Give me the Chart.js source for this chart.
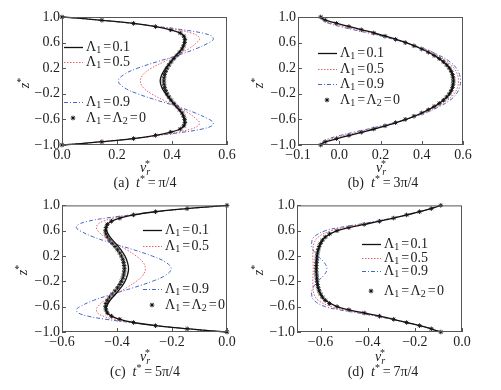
<!DOCTYPE html>
<html>
<head>
<meta charset="utf-8">
<script src="https://cdn.jsdelivr.net/npm/chart.js@4.4.1/dist/chart.umd.min.js"></script>
<style>
  body { margin: 0; background: #fff; }
  #wrap { position: relative; width: 501px; height: 390px; overflow: hidden; font-family: 'Liberation Serif', 'DejaVu Serif', serif; color: #222; }
  #wrap canvas { position: absolute; }
  .txt { position: absolute; transform: translate(-50%, -50%); font-size: 14px; white-space: nowrap; line-height: 16px; }
  .rot { transform: translate(-50%, -50%) rotate(-90deg); }
  .up { font-size: 10px; position: relative; top: -5px; }
  .sb { font-size: 10px; position: relative; top: 3px; }
  .st { font-size: 10px; position: relative; top: -5px; margin-left: -5px; }
</style>
</head>
<body>
<div id="wrap">
  <canvas id="pa" width="250" height="195" style="left:0;top:0"></canvas>
  <canvas id="pb" width="251" height="195" style="left:250px;top:0"></canvas>
  <canvas id="pc" width="250" height="195" style="left:0;top:195px"></canvas>
  <canvas id="pd" width="251" height="195" style="left:250px;top:195px"></canvas>

  <div class="txt rot" style="left:25px;top:83px"><i>z</i><span class="up">*</span></div>
  <div class="txt rot" style="left:259px;top:83px"><i>z</i><span class="up">*</span></div>
  <div class="txt rot" style="left:23px;top:270px"><i>z</i><span class="up">*</span></div>
  <div class="txt rot" style="left:259px;top:270px"><i>z</i><span class="up">*</span></div>

  <div class="txt" style="left:145px;top:168px"><i>v</i><i class="sb">r</i><span class="st">*</span></div>
  <div class="txt" style="left:381px;top:168px"><i>v</i><i class="sb">r</i><span class="st">*</span></div>
  <div class="txt" style="left:145px;top:357px"><i>v</i><i class="sb">r</i><span class="st">*</span></div>
  <div class="txt" style="left:380px;top:357px"><i>v</i><i class="sb">r</i><span class="st">*</span></div>

  <div class="txt" style="left:145px;top:183px">(a)&nbsp;&nbsp;<i>t</i><span class="up">*</span>&thinsp;=&thinsp;π/4</div>
  <div class="txt" style="left:383px;top:183px">(b)&nbsp;&nbsp;<i>t</i><span class="up">*</span>&thinsp;=&thinsp;3π/4</div>
  <div class="txt" style="left:145px;top:372px">(c)&nbsp;&nbsp;<i>t</i><span class="up">*</span>&thinsp;=&thinsp;5π/4</div>
  <div class="txt" style="left:383px;top:372px">(d)&nbsp;&nbsp;<i>t</i><span class="up">*</span>&thinsp;=&thinsp;7π/4</div>
</div>
<script>
// z* positions for the curves and for the Λ1=Λ2=0 markers
const zLine = [1, 0.97, 0.94, 0.9, 0.85, 0.8, 0.75, 0.7, 0.65, 0.6, 0.5, 0.4, 0.3, 0.2, 0.1, 0, -0.1, -0.2, -0.3, -0.4, -0.5, -0.6, -0.65, -0.7, -0.75, -0.8, -0.85, -0.9, -0.94, -0.97, -1];
const zMark = [1, 0.95, 0.9, 0.85, 0.8, 0.75, 0.7, 0.65, 0.6, 0.55, 0.5, 0.45, 0.4, 0.35, 0.3, 0.25, 0.2, 0.15, 0.1, 0.05, 0, -0.05, -0.1, -0.15, -0.2, -0.25, -0.3, -0.35, -0.4, -0.45, -0.5, -0.55, -0.6, -0.65, -0.7, -0.75, -0.8, -0.85, -0.9, -0.95, -1];

const seriesNames = ['Λ_1=0.1', 'Λ_1=0.5', 'Λ_1=0.9', 'Λ_1=Λ_2=0'];

// (a) t* = π/4
const aL01 = [0, 0.09, 0.17, 0.26, 0.34, 0.395, 0.43, 0.443, 0.447, 0.445, 0.435, 0.415, 0.395, 0.377, 0.363, 0.357, 0.363, 0.377, 0.395, 0.415, 0.435, 0.445, 0.447, 0.443, 0.43, 0.395, 0.34, 0.26, 0.17, 0.09, 0];
const aL05 = [0, 0.09, 0.17, 0.26, 0.35, 0.42, 0.47, 0.495, 0.5, 0.49, 0.46, 0.415, 0.37, 0.325, 0.295, 0.285, 0.295, 0.325, 0.37, 0.415, 0.46, 0.49, 0.5, 0.495, 0.47, 0.42, 0.35, 0.26, 0.17, 0.09, 0];
const aL09 = [0, 0.085, 0.165, 0.255, 0.35, 0.44, 0.51, 0.545, 0.55, 0.535, 0.485, 0.42, 0.345, 0.275, 0.225, 0.205, 0.225, 0.275, 0.345, 0.42, 0.485, 0.535, 0.55, 0.545, 0.51, 0.44, 0.35, 0.255, 0.165, 0.085, 0];
const aNewt = [0, 0.145, 0.26, 0.34, 0.395, 0.43, 0.443, 0.447, 0.446, 0.442, 0.437, 0.428, 0.418, 0.407, 0.397, 0.389, 0.382, 0.377, 0.373, 0.371, 0.37, 0.371, 0.373, 0.377, 0.382, 0.389, 0.397, 0.407, 0.418, 0.428, 0.437, 0.442, 0.446, 0.447, 0.443, 0.43, 0.395, 0.34, 0.26, 0.145, 0];

// (b) t* = 3π/4
const bL01 = [-0.09, -0.08, -0.055, -0.01, 0.05, 0.11, 0.17, 0.225, 0.277, 0.325, 0.4, 0.46, 0.505, 0.535, 0.55, 0.555, 0.55, 0.535, 0.505, 0.46, 0.4, 0.325, 0.277, 0.225, 0.17, 0.11, 0.05, -0.01, -0.055, -0.08, -0.09];
const bL05 = [-0.09, -0.085, -0.07, -0.035, 0.025, 0.09, 0.155, 0.215, 0.27, 0.32, 0.41, 0.475, 0.525, 0.557, 0.573, 0.578, 0.573, 0.557, 0.525, 0.475, 0.41, 0.32, 0.27, 0.215, 0.155, 0.09, 0.025, -0.035, -0.07, -0.085, -0.09];
const bL09 = [-0.09, -0.087, -0.077, -0.05, 0.005, 0.07, 0.14, 0.205, 0.265, 0.32, 0.415, 0.485, 0.537, 0.568, 0.583, 0.588, 0.583, 0.568, 0.537, 0.485, 0.415, 0.32, 0.265, 0.205, 0.14, 0.07, 0.005, -0.05, -0.077, -0.087, -0.09];
const bNewt = [-0.09, -0.068, -0.013, 0.047, 0.107, 0.167, 0.222, 0.273, 0.32, 0.362, 0.4, 0.432, 0.46, 0.485, 0.505, 0.521, 0.534, 0.543, 0.549, 0.552, 0.553, 0.552, 0.549, 0.543, 0.534, 0.521, 0.505, 0.485, 0.46, 0.432, 0.4, 0.362, 0.32, 0.273, 0.222, 0.167, 0.107, 0.047, -0.013, -0.068, -0.09];

// (c) t* = 5π/4
const cL01 = [0, -0.09, -0.17, -0.26, -0.34, -0.39, -0.42, -0.435, -0.44, -0.438, -0.425, -0.405, -0.386, -0.371, -0.362, -0.358, -0.362, -0.371, -0.386, -0.405, -0.425, -0.438, -0.44, -0.435, -0.42, -0.39, -0.34, -0.26, -0.17, -0.09, 0];
const cL05 = [0, -0.09, -0.17, -0.26, -0.345, -0.41, -0.45, -0.47, -0.475, -0.47, -0.445, -0.405, -0.365, -0.33, -0.305, -0.297, -0.305, -0.33, -0.365, -0.405, -0.445, -0.47, -0.475, -0.47, -0.45, -0.41, -0.345, -0.26, -0.17, -0.09, 0];
const cL09 = [0, -0.085, -0.165, -0.255, -0.35, -0.44, -0.505, -0.54, -0.548, -0.535, -0.485, -0.415, -0.34, -0.272, -0.222, -0.203, -0.222, -0.272, -0.34, -0.415, -0.485, -0.535, -0.548, -0.54, -0.505, -0.44, -0.35, -0.255, -0.165, -0.085, 0];
const cNewt = [0, -0.145, -0.26, -0.34, -0.39, -0.42, -0.435, -0.44, -0.442, -0.44, -0.435, -0.427, -0.417, -0.407, -0.398, -0.39, -0.384, -0.379, -0.376, -0.374, -0.373, -0.374, -0.376, -0.379, -0.384, -0.39, -0.398, -0.407, -0.417, -0.427, -0.435, -0.44, -0.442, -0.44, -0.435, -0.42, -0.39, -0.34, -0.26, -0.145, 0];

// (d) t* = 7π/4
const dL01 = [-0.09, -0.115, -0.14, -0.18, -0.235, -0.29, -0.35, -0.415, -0.48, -0.53, -0.58, -0.6, -0.61, -0.615, -0.617, -0.618, -0.617, -0.615, -0.61, -0.6, -0.58, -0.53, -0.48, -0.415, -0.35, -0.29, -0.235, -0.18, -0.14, -0.115, -0.09];
const dL05 = [-0.09, -0.115, -0.14, -0.18, -0.235, -0.295, -0.36, -0.43, -0.5, -0.555, -0.61, -0.628, -0.632, -0.633, -0.632, -0.631, -0.632, -0.633, -0.632, -0.628, -0.61, -0.555, -0.5, -0.43, -0.36, -0.295, -0.235, -0.18, -0.14, -0.115, -0.09];
const dL09 = [-0.09, -0.113, -0.138, -0.177, -0.232, -0.295, -0.365, -0.44, -0.52, -0.58, -0.628, -0.638, -0.632, -0.612, -0.585, -0.573, -0.585, -0.612, -0.632, -0.638, -0.628, -0.58, -0.52, -0.44, -0.365, -0.295, -0.232, -0.177, -0.138, -0.113, -0.09];
const dNewt = [-0.09, -0.13, -0.18, -0.235, -0.29, -0.35, -0.415, -0.48, -0.53, -0.562, -0.58, -0.592, -0.6, -0.606, -0.61, -0.613, -0.615, -0.616, -0.617, -0.618, -0.618, -0.618, -0.617, -0.616, -0.615, -0.613, -0.61, -0.606, -0.6, -0.592, -0.58, -0.562, -0.53, -0.48, -0.415, -0.35, -0.29, -0.235, -0.18, -0.13, -0.09];

// tick values and labels
const yTicks = [-1, -0.6, -0.2, 0.2, 0.6, 1];
const yLabels = ['−1.0', '−0.6', '−0.2', '0.2', '0.6', '1.0'];
const aTicks = [0, 0.2, 0.4, 0.6];
const aLabels = ['0.0', '0.2', '0.4', '0.6'];
const bTicks = [-0.2, 0, 0.2, 0.4, 0.6];
const bLabels = ['−0.1', '0.0', '0.2', '0.4', '0.6'];
const cTicks = [-0.6, -0.4, -0.2, 0];
const cLabels = ['−0.6', '−0.4', '−0.2', '0.0'];
const dTicks = [-0.6, -0.4, -0.2, 0];
const dLabels = ['−0.6', '−0.4', '−0.2', '0.0'];

const FONT = "'Liberation Serif', 'DejaVu Serif', serif";
const INK = '#222';
const styles = [
    { color: '#111', width: 1.3, dash: [] },
    { color: '#e8606a', width: 1, dash: [1.5, 1.5] },
    { color: '#4466c8', width: 1, dash: [4, 2, 1, 2] }
];

function punti(vs, zs) {
    return vs.map((v, i) => ({ x: v, y: zs[i] }));
}

function drawStar(ctx, x, y, r) {
    ctx.beginPath();
    for (let k = 0; k < 4; k++) {
        const ang = k * Math.PI / 4;
        ctx.moveTo(x - r * Math.cos(ang), y - r * Math.sin(ang));
        ctx.lineTo(x + r * Math.cos(ang), y + r * Math.sin(ang));
    }
    ctx.stroke();
}

function drawName(ctx, name, x, y) {
    const parti = name.match(/_.|=|[^_=]+/g);
    let cx = x;
    ctx.fillStyle = INK;
    ctx.textBaseline = 'middle';
    ctx.textAlign = 'left';
    parti.forEach(p => {
        if (p[0] === '_') {
            ctx.font = '10px ' + FONT;
            ctx.fillText(p[1], cx, y + 3);
            cx += ctx.measureText(p[1]).width + 0.5;
        } else if (p === '=') {
            ctx.font = '14px ' + FONT;
            cx += 1.5;
            ctx.fillText(p, cx, y);
            cx += ctx.measureText(p).width + 1.5;
        } else {
            ctx.font = '14px ' + FONT;
            ctx.fillText(p, cx, y);
            cx += ctx.measureText(p).width;
        }
    });
}

const cornicePlugin = {
    id: 'cornice',
    afterDatasetsDraw(chart) {
        const { ctx, chartArea: a, scales } = chart;
        ctx.save();
        ctx.strokeStyle = '#555';
        ctx.lineWidth = 1;
        ctx.setLineDash([]);
        ctx.strokeRect(a.left + 0.5, a.top + 0.5, a.right - a.left - 1, a.bottom - a.top - 1);
        ctx.beginPath();
        scales.x.ticks.forEach(t => {
            const px = Math.round(scales.x.getPixelForValue(t.value)) + 0.5;
            ctx.moveTo(px, a.bottom);
            ctx.lineTo(px, a.bottom - 4);
        });
        scales.y.ticks.forEach(t => {
            const py = Math.round(scales.y.getPixelForValue(t.value)) + 0.5;
            ctx.moveTo(a.left, py);
            ctx.lineTo(a.left + 4, py);
        });
        ctx.stroke();
        ctx.restore();
    },
    afterDraw(chart, args, opts) {
        const { ctx } = chart;
        ctx.save();
        opts.rows.forEach((ry, i) => {
            const x0 = opts.x0;
            if (i < 3) {
                const s = styles[i];
                ctx.strokeStyle = s.color;
                ctx.lineWidth = s.width;
                ctx.setLineDash(s.dash);
                ctx.beginPath();
                ctx.moveTo(x0, ry + 0.5);
                ctx.lineTo(x0 + 19, ry + 0.5);
                ctx.stroke();
            } else {
                ctx.strokeStyle = '#111';
                ctx.lineWidth = 1;
                ctx.setLineDash([]);
                drawStar(ctx, x0 + 9, ry, 2.3);
            }
            ctx.setLineDash([]);
            drawName(ctx, seriesNames[i], x0 + 22, ry);
        });
        ctx.restore();
    }
};

function creaPannello(id, cfg) {
    const lineSets = cfg.lines.map((vs, i) => ({
        data: punti(vs, zLine),
        showLine: true,
        borderColor: styles[i].color,
        borderWidth: styles[i].width,
        borderDash: styles[i].dash,
        pointRadius: 0,
        tension: 0.4,
        clip: 5
    }));
    const markSet = {
        data: punti(cfg.newt, zMark),
        showLine: false,
        pointStyle: 'star',
        pointRadius: 2.3,
        borderColor: '#111',
        backgroundColor: '#111',
        pointBorderWidth: 0.9,
        clip: 6
    };

    new Chart(document.getElementById(id), {
        type: 'scatter',
        data: { datasets: [...lineSets, markSet] },
        options: {
            responsive: false,
            animation: false,
            events: [],
            layout: { autoPadding: false, padding: { left: 0, top: cfg.top, right: cfg.right, bottom: 0 } },
            plugins: {
                legend: { display: false },
                tooltip: { enabled: false },
                cornice: { rows: cfg.rows, x0: cfg.x0 }
            },
            scales: {
                x: {
                    type: 'linear',
                    min: cfg.xMin,
                    max: cfg.xMax,
                    afterFit: s => { s.height = cfg.bottom; },
                    afterBuildTicks: s => { s.ticks = cfg.xTicks.map(v => ({ value: v })); },
                    ticks: {
                        callback: (v, i) => cfg.xLabels[i],
                        font: { family: FONT, size: 14 },
                        color: INK,
                        padding: 2,
                        maxRotation: 0,
                        autoSkip: false
                    },
                    grid: { display: false, drawTicks: false },
                    border: { display: false }
                },
                y: {
                    type: 'linear',
                    min: -1,
                    max: 1,
                    afterFit: s => { s.width = cfg.left; },
                    afterBuildTicks: s => { s.ticks = yTicks.map(v => ({ value: v })); },
                    ticks: {
                        callback: (v, i) => yLabels[i],
                        font: { family: FONT, size: 14 },
                        color: INK,
                        padding: 2,
                        autoSkip: false
                    },
                    grid: { display: false, drawTicks: false },
                    border: { display: false }
                }
            }
        },
        plugins: [cornicePlugin]
    });
}

creaPannello('pa', {
    lines: [aL01, aL05, aL09], newt: aNewt,
    xMin: 0, xMax: 0.6, xTicks: aTicks, xLabels: aLabels,
    left: 62, top: 17, right: 23, bottom: 50,
    x0: 64, rows: [47, 62, 102, 118]
});
creaPannello('pb', {
    lines: [bL01, bL05, bL09], newt: bNewt,
    xMin: -0.2, xMax: 0.6, xTicks: bTicks, xLabels: bLabels,
    left: 48, top: 17, right: 38, bottom: 50,
    x0: 68, rows: [53, 69, 84, 100]
});
creaPannello('pc', {
    lines: [cL01, cL05, cL09], newt: cNewt,
    xMin: -0.6, xMax: 0, xTicks: cTicks, xLabels: cLabels,
    left: 62, top: 10, right: 23, bottom: 58,
    x0: 143, rows: [35, 51, 94, 110]
});
creaPannello('pd', {
    lines: [dL01, dL05, dL09], newt: dNewt,
    xMin: -0.7, xMax: 0, xTicks: dTicks, xLabels: dLabels,
    left: 47, top: 10, right: 39, bottom: 58,
    x0: 112, rows: [49, 63, 76, 96]
});
</script>
</body>
</html>
